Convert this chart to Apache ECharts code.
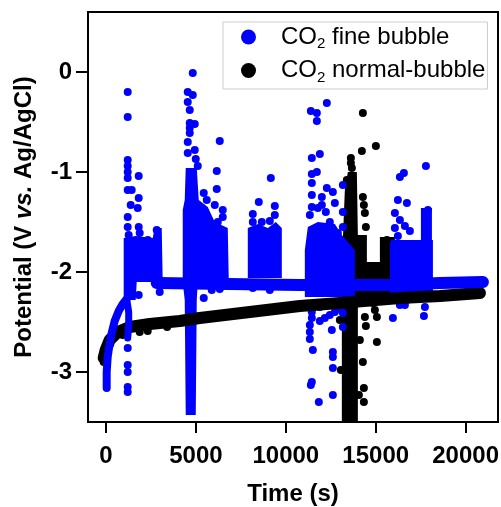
<!DOCTYPE html>
<html><head><meta charset="utf-8">
<script src="https://cdn.jsdelivr.net/npm/echarts@6/dist/echarts.min.js"></script>
<style>html,body{margin:0;padding:0;background:#fff}#c{width:501px;height:507px}</style>
</head><body><div id="c"></div>
<script>
// ---- data (Time s, Potential V) ----
const xTicks = [0, 5000, 10000, 15000, 20000];
const yTicks = [-3, -2, -1, 0];
const seriesNames = ['CO2 fine bubble', 'CO2 normal-bubble'];

// normal-bubble (black)
const blackTrend = [[-128,-2.86],[-17,-2.78],[206,-2.68],[651,-2.60],[1319,-2.55],[2432,-2.52],[4101,-2.49],[5214,-2.46],[7997,-2.40],[10780,-2.34],[13005,-2.31],[16344,-2.26],[18571,-2.24],[20796,-2.21]];
const blackDense = [[13450,-1.00],[13951,-1.00],[14007,-1.63],[14508,-1.63],[14508,-1.90],[15232,-1.90],[15232,-1.65],[16066,-1.65],[16066,-2.31],[14007,-2.31],[14007,-3.55],[13116,-3.55],[13116,-2.31],[13172,-1.68],[13283,-1.18]];
const blackPoints = [[-128,-2.90],[-72,-2.85],[-17,-2.80],[95,-2.75],[206,-2.71],[373,-2.66],[540,-2.62],
 [930,-2.63],[1875,-2.60],[2321,-2.59],[3400,-2.55],
 [14285,-0.41],[15009,-0.74],[14229,-0.79],[13617,-0.86],[13617,-0.91],[13673,-0.96],[14285,-1.25],[14341,-1.33],[14397,-1.41],[14452,-1.55],[15621,-1.68],
 [14397,-2.45],[14452,-2.54],[15065,-2.70],[14285,-2.90],[14341,-3.16],[14341,-3.30],[14842,-2.31],[15065,-2.45],[14953,-2.38],
 [13005,-2.48],[14118,-2.68],[13061,-2.98],[14063,-3.23],[13394,-1.08]];

// fine bubble (blue)
const blueStart = [[39,-3.16],[39,-3.00],[95,-2.85],[206,-2.71],[317,-2.61],[484,-2.49],[707,-2.39],[930,-2.32],[1152,-2.27]];
const blueBranch = [[1152,-2.27],[1263,-2.40],[1263,-2.53],[1208,-2.66]];
const blueBand = [[2821,-2.11],[10780,-2.13],[16066,-2.13],[18571,-2.11],[20963,-2.10]];
const blueDense = [
 [[985,-1.66],[1653,-1.64],[2599,-1.66],[2710,-1.56],[3100,-1.56],[3155,-2.10],[1709,-2.10],[1653,-2.28],[985,-2.28]],
 [[4435,-0.96],[5048,-0.96],[5159,-1.28],[5660,-1.35],[6049,-1.50],[6772,-1.56],[6828,-2.08],[5103,-2.10],[5048,-2.28],[4992,-3.43],[4435,-3.43],[4379,-2.28],[4268,-2.10],[4268,-1.38],[4379,-1.28]],
 [[7886,-1.56],[8442,-1.52],[9000,-1.56],[9444,-1.50],[9778,-1.56],[9778,-2.06],[7886,-2.06]],
 [[11058,-1.78],[11225,-1.55],[11781,-1.50],[12727,-1.52],[13116,-1.63],[13840,-1.78],[13840,-2.25],[11058,-2.25]],
 [[15788,-1.68],[18181,-1.68],[18181,-2.21],[15788,-2.21]],
 [[17513,-1.36],[18125,-1.36],[18125,-1.68],[17513,-1.68]]
];
const bluePoints = [
 [1208,-0.20],[1208,-0.45],[1208,-0.88],[1208,-0.94],[1208,-1.00],[1208,-1.06],[1820,-1.04],[1208,-1.18],[1430,-1.18],[1820,-1.26],[1375,-1.33],[1764,-1.36],[1208,-1.45],[1208,-1.55],[1820,-1.55],[1263,-1.63],[1875,-1.61],[2821,-1.58],[2321,-1.68],[1820,-2.23],
 [1208,-2.76],[1208,-2.93],[1208,-3.00],[1208,-3.15],[1208,-3.20],
 [5437,-2.26],[5882,-2.18],[6327,-2.17],[8164,-2.16],[9110,-2.18],[2988,-2.20],
 [4825,-0.01],[4547,-0.20],[4825,-0.23],[4547,-0.30],[4658,-0.38],[4658,-0.51],[4658,-0.56],[4936,-0.52],[4658,-0.61],[4547,-0.70],[4936,-0.78],[4547,-0.81],[4992,-0.87],[5103,-0.94],[6327,-0.69],[6160,-0.99],[6160,-1.17],[5437,-1.21],[5604,-1.28],[6049,-1.33],[6494,-1.38],[6494,-1.45],[6216,-1.50],
 [9166,-1.06],[8498,-1.30],[8164,-1.42],[8164,-1.50],[9388,-1.34],[9388,-1.43],[9110,-1.49],[8665,-1.50],
 [11392,-0.39],[11726,-0.41],[12282,-0.31],[11726,-0.49],[11447,-0.86],[11892,-0.82],[11447,-1.02],[11726,-1.00],[11447,-1.11],[12282,-1.16],[12616,-1.20],[13172,-1.13],[12004,-1.25],[11447,-1.35],[12727,-1.31],[13172,-1.40],[13172,-1.55],[12894,-1.61],[12171,-1.58],[11336,-1.43],[11781,-1.36],[12226,-1.40],[12449,-1.50],[11447,-1.23],[12004,-1.33],
 [11447,-2.33],[11447,-2.40],[11447,-2.46],[11892,-2.35],[11892,-2.49],[12171,-2.46],[12449,-2.43],[12727,-2.40],[13005,-2.37],[12560,-2.58],[11336,-2.53],[11336,-2.60],[11336,-2.67],[11503,-2.78],[12616,-2.80],[12616,-2.85],[12616,-2.96],[11447,-3.10],[11392,-3.13],[12616,-3.23],[11837,-3.30],[13172,-2.25],[13172,-2.33],[13172,-2.41],[13172,-2.55],
 [17791,-0.94],[16567,-1.01],[16344,-1.05],[16233,-1.28],[16734,-1.31],[16066,-1.41],[17903,-1.38],[16344,-1.48],[16623,-1.54],[16066,-1.56],[16901,-1.59],[16233,-1.64],[15955,-2.46],[17680,-2.44],[17736,-2.35],[16623,-2.33],[16344,-2.33],[16734,-2.28],[20907,-2.10]
];

// ---- chart ----
const BLUE = '#0000ff', BLACK = '#000000';
const FONT = 'Liberation Sans, Arial, sans-serif';
function polySeries(id, polys, color) {
  return {
    type: 'custom', id: id, silent: true, clip: true,
    data: polys.map(p => p[0]),
    renderItem: function (params, api) {
      const poly = polys[params.dataIndex];
      return { type: 'polygon', shape: { points: poly.map(p => api.coord(p)) }, style: { fill: color } };
    }
  };
}
function lineSeries(id, data, color, width) {
  return { type: 'line', id: id, data: data, showSymbol: false, silent: true, clip: true,
    lineStyle: { color: color, width: width, opacity: 1, cap: 'round', join: 'round' } };
}
const plainNum = v => String(v);
const chart = echarts.init(document.getElementById('c'), null, { renderer: 'canvas' });
chart.setOption({
  animation: false,
  backgroundColor: '#fff',
  textStyle: { fontFamily: FONT },
  grid: { left: 88, right: 3, top: 12, bottom: 85, show: true, borderColor: '#000', borderWidth: 2,
    containLabel: false, outerBoundsMode: 'none' },
  legend: {
    orient: 'vertical', left: 223, top: 22,
    padding: [3, 2, 4, 18], itemGap: 7,
    borderColor: '#cccccc', borderWidth: 1,
    itemWidth: 15, itemHeight: 15,
    data: [{ name: seriesNames[0], icon: 'circle' }, { name: seriesNames[1], icon: 'circle' }],
    formatter: n => n.replace('CO2', 'CO{sub|2}'),
    textStyle: { fontSize: 24, color: '#000', fontFamily: FONT, padding: [0, 0, 0, 20],
      rich: { sub: { fontSize: 15, fontFamily: FONT, color: '#000', padding: [14, 0, 0, 0] } } }
  },
  xAxis: {
    type: 'value', min: -1000, max: 21800,
    axisLine: { show: true, onZero: false, lineStyle: { color: '#000', width: 2 } },
    axisTick: { show: true, length: 11, customValues: xTicks, lineStyle: { color: '#000', width: 2 } },
    axisLabel: { customValues: xTicks, formatter: plainNum, fontSize: 24, fontWeight: 'bold', color: '#000', fontFamily: FONT, margin: 22 },
    splitLine: { show: false },
    name: 'Time (s)', nameLocation: 'middle', nameGap: 60,
    nameTextStyle: { fontSize: 24, fontWeight: 'bold', color: '#000', fontFamily: FONT }
  },
  yAxis: {
    type: 'value', min: -3.5, max: 0.6,
    axisLine: { show: true, onZero: false, lineStyle: { color: '#000', width: 2 } },
    axisTick: { show: true, length: 12, customValues: yTicks, lineStyle: { color: '#000', width: 2 } },
    axisLabel: { customValues: yTicks, formatter: plainNum, fontSize: 24, fontWeight: 'bold', color: '#000', fontFamily: FONT, margin: 16 },
    splitLine: { show: false },
    name: 'Potential (V {it|vs.} Ag/AgCl)', nameLocation: 'middle', nameGap: 52,
    nameTextStyle: { fontSize: 24, fontWeight: 'bold', color: '#000', fontFamily: FONT,
      rich: { it: { fontSize: 24, fontWeight: 'bold', fontStyle: 'italic', color: '#000', fontFamily: FONT } } }
  },
  series: [
    polySeries('blackDense', [blackDense], BLACK),
    lineSeries('blackTrend', blackTrend, BLACK, 12),
    { type: 'scatter', name: seriesNames[1], data: blackPoints, symbolSize: 8, clip: true, itemStyle: { color: BLACK, opacity: 1 } },
    polySeries('blueDense', blueDense, BLUE),
    lineSeries('blueStart', blueStart, BLUE, 8),
    lineSeries('blueBranch', blueBranch, BLUE, 7),
    lineSeries('blueBand', blueBand, BLUE, 12),
    { type: 'scatter', name: seriesNames[0], data: bluePoints, symbolSize: 8, clip: true, itemStyle: { color: BLUE, opacity: 1 } }
  ]
});
</script></body></html>
